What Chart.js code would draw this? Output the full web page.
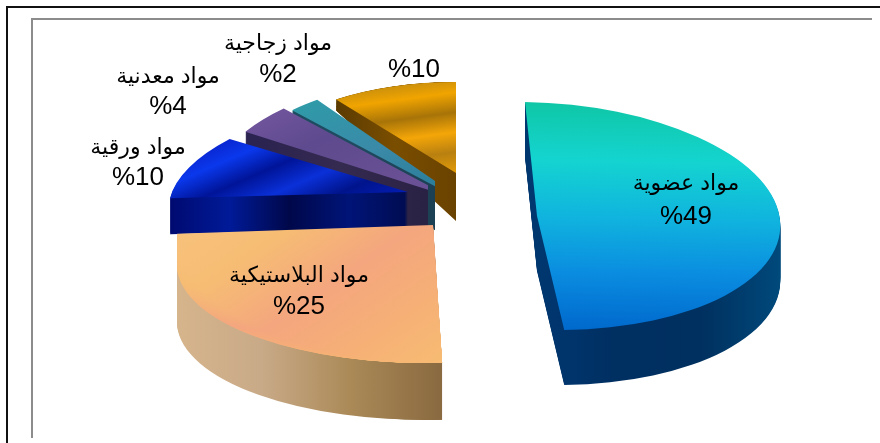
<!DOCTYPE html>
<html><head><meta charset="utf-8">
<style>
html,body{margin:0;padding:0;background:#fff;width:880px;height:443px;overflow:hidden}
#wrap{position:relative;width:880px;height:443px}
canvas{position:absolute;left:0;top:0}
.l{position:absolute}
</style>
<script src="https://cdn.jsdelivr.net/npm/chart.js@4"></script>
</head><body>
<div id="wrap">
<div class="l" style="left:6px;top:6px;width:874px;height:2px;background:#111"></div>
<div class="l" style="left:6px;top:6px;width:2px;height:437px;background:#111"></div>
<div class="l" style="left:31px;top:18px;width:841px;height:2px;background:#8c8c8c"></div>
<div class="l" style="left:31px;top:18px;width:2px;height:420px;background:#8c8c8c"></div>
<canvas id="c" width="880" height="443"></canvas>
</div>
<script>
const categories = ['مواد عضوية','مواد البلاستيكية','مواد ورقية','مواد معدنية','مواد زجاجية',''];
const percents = [49,25,10,4,2,10];

// Layout of each wedge on the page: [centerX, centerY, a, b, c, d, depth]
const wedgeLayout = [
  [537,216,243,4,12,114,55],
  [433,225,256,0,-7,138,57],
  [408,192,236,0,-39,99,36],
  [448,196,240,0,0,120,46],
  [470,205,260,0,0,130,44],
  [456,173,204,0,0,91,48]
];
const wallTaper = [1,1,1,1,1,1.5];      // vertical stretch of the lowest wall layer
const clipRight = [900,900,900,428,435,457];
const frontBulge = [0,37,0,0,0,0];      // top-face swell towards the viewer
// Top face gradients: [u0,v0,u1,v1,[stops]] in wedge unit space
const topFill = [
  [0,-1,0,1,['#0fc7a6','#14d4d0','#10b4de','#0a8ce0','#0068cc']],
  [-1,0,0.2,0.9,['#f8c27c','#f6bc74','#f4a67e','#f6b076','#f7bd72']],
  [-0.9,-0.55,-0.1,0.1,['#0a20c8','#0a38ec','#001498','#0a30d8','#00148c','#041cb0']],
  [-0.8,-0.9,-0.1,-0.2,['#7a5aa4','#5e4a8e','#6a5094']],
  [-0.6,-0.8,-0.1,-0.1,['#2f9aa8','#3a8aa8','#2a7c98']],
  [-0.35,-1,-0.05,0,['#c08a10','#f0a400','#a87408','#f4a608','#b98010','#e09a08']]
];
const sideFill = [
  [-0.1,0,1,0,['#003a74','#002f62','#00305f','#004a7c']],
  [-1,0,0.05,0,['#d6b58c','#c9aa88','#ab8a58','#8a6a40']],
  [-1,0,0,0,['#000a70','#001a98','#00084a','#001478','#000c50']],
  [-0.8,0,-0.1,0,['#2b2350','#352a50','#2a2244']],
  [-0.8,0,-0.1,0,['#1b4e60','#204a60','#1b3f52']],
  [-0.6,0,0,0,['#5a3a00','#7a4e00','#6a4200']]
];
const drawOrder = [5,4,3,2,1,0];
// Text: [centerX, labelY, percentY]
const textLayout = [
  [686,184,217],
  [299,276,307],
  [138,148,178],
  [168,77,107],
  [278,44,75],
  [414,0,70]
];

function makeGrad(ctx, el, spec, lay, cyAdd, dMult){
  const R = el.outerRadius, d = lay[5];
  const map = v => (d*v - cyAdd)/(d*dMult);
  const g = ctx.createLinearGradient(el.x+spec[0]*R, el.y+map(spec[1])*R, el.x+spec[2]*R, el.y+map(spec[3])*R);
  spec[4].forEach((c,i,a)=>g.addColorStop(i/(a.length-1),c));
  return g;
}
function paint(ctx, el, lay, dy, fill, cyAdd, dMult, clipX){
  const R = el.outerRadius, base = el.options;
  el.options = Object.assign({}, base, {backgroundColor:fill, borderWidth:0});
  ctx.save();
  ctx.beginPath(); ctx.rect(0,0,clipX,443); ctx.clip();
  ctx.setTransform(lay[2]/R, lay[3]/R, lay[4]/R, lay[5]*dMult/R, lay[0], lay[1]+dy+cyAdd);
  ctx.translate(-el.x, -el.y);
  el.draw(ctx);
  ctx.restore();
  el.options = base;
}
const depthPie = {
  id:'depthPie',
  beforeDatasetsDraw(chart){
    const ctx = chart.ctx;
    const els = chart.getDatasetMeta(0).data;
    drawOrder.forEach(i=>{
      const el = els[i], lay = wedgeLayout[i], D = lay[6], bulge = frontBulge[i];
      const multOf = add => (lay[5]-add)/lay[5];
      for(let d=D; d>0; d--){
        const m = 1+(wallTaper[i]-1)*d/D;
        paint(ctx, el, lay, d, makeGrad(ctx, el, sideFill[i], lay, 0, m), 0, m, clipRight[i]);
        if(bulge) paint(ctx, el, lay, d, makeGrad(ctx, el, sideFill[i], lay, bulge, multOf(bulge)), bulge, multOf(bulge), clipRight[i]);
      }
      for(let add=bulge; add>=0; add-=2){
        paint(ctx, el, lay, 0, makeGrad(ctx, el, topFill[i], lay, add, multOf(add)), add, multOf(add), clipRight[i]);
      }
      if(bulge) paint(ctx, el, lay, 0, makeGrad(ctx, el, topFill[i], lay, 0, 1), 0, 1, clipRight[i]);
    });
    return false;
  },
  afterDraw(chart){
    const ctx = chart.ctx;
    ctx.save();
    ctx.fillStyle = '#000';
    ctx.textAlign = 'center';
    ctx.textBaseline = 'middle';
    categories.forEach((t,i)=>{
      const p = textLayout[i];
      if(t){
        ctx.direction = 'rtl';
        ctx.font = '22px "Liberation Sans","DejaVu Sans",sans-serif';
        ctx.fillText(t, p[0], p[1]);
      }
      ctx.direction = 'ltr';
      ctx.font = '26px "Liberation Sans",sans-serif';
      ctx.fillText('%'+percents[i], p[0], p[2]);
    });
    ctx.restore();
  }
};
new Chart(document.getElementById('c'),{
  type:'pie',
  data:{labels:categories,datasets:[{data:percents,borderWidth:0}]},
  options:{
    responsive:false,animation:false,
    plugins:{legend:{display:false},tooltip:{enabled:false}},
    events:[]
  },
  plugins:[depthPie]
});
</script>
</body></html>
